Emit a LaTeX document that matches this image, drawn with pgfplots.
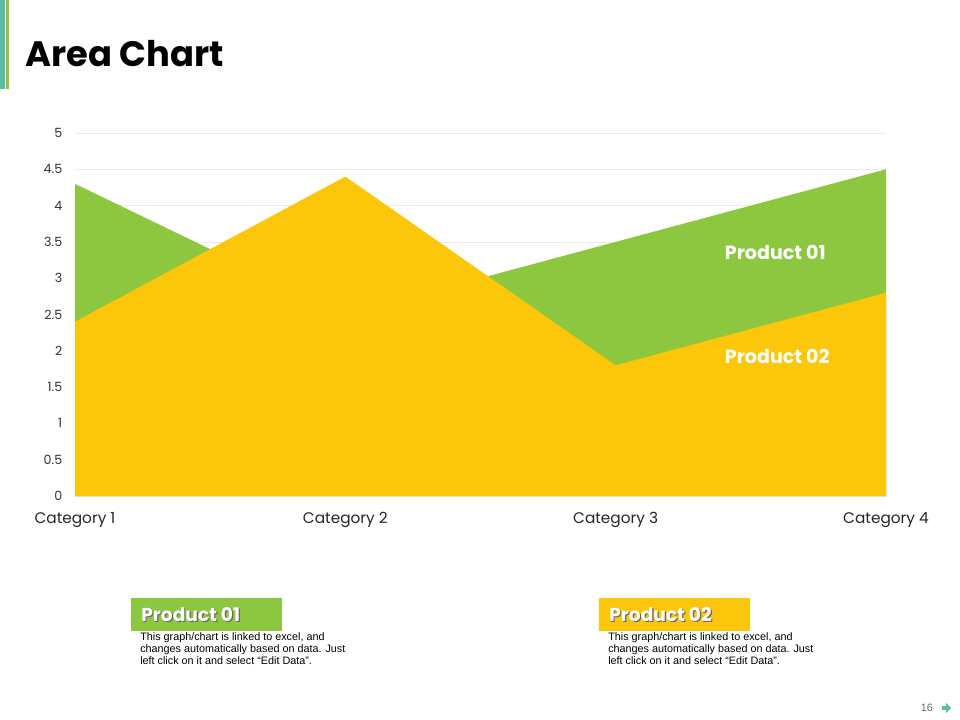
\documentclass[border=0pt]{standalone}
\usepackage{pgfplots}
\pgfplotsset{compat=1.18}
\usepackage{fontspec}
\setmainfont{Poppins}
\newfontfamily\arialfont{Liberation Sans}
\definecolor{pgreen}{RGB}{141,198,63}
\definecolor{pyellow}{RGB}{252,198,10}
\definecolor{pteal}{RGB}{91,190,160}
\definecolor{gridc}{RGB}{235,235,235}
\begin{document}
\begin{tikzpicture}[x=0.75pt,y=-0.75pt]
\fill[white] (0,0) rectangle (960,720);
\fill[pteal] (0,0) rectangle (5,89);
\fill[pgreen] (6,0) rectangle (9,89);
\node[anchor=west,inner sep=0pt,font=\fontsize{26.5}{30}\selectfont\bfseries] at (25,54) {Area Chart};
\begin{axis}[
  at={(56.25pt,-372pt)}, anchor=south west,
  scale only axis, width=608.25pt, height=272.25pt,
  xmin=0, xmax=3, ymin=0, ymax=5,
  xtick={0,1,2,3},
  xticklabels={Category 1,Category 2,Category 3,Category 4},
  ytick={0,0.5,...,5},
  yticklabels={0,0.5,1,1.5,2,2.5,3,3.5,4,4.5,5},
  axis line style={draw=none},
  major tick length=0pt,
  ymajorgrids, grid style={gridc, line width=0.6pt},
  tick label style={font=\fontsize{9.5}{11}\selectfont, text=black!80},
  xticklabel style={font=\fontsize{11.5}{13}\selectfont, text=black!85, yshift=-8.5pt},
  yticklabel style={xshift=-6pt},
  /pgf/number format/assume math mode=true,
  clip=false,
]
\addplot[fill=pgreen, draw=none] coordinates {(0,4.3) (1,2.5) (2,3.5) (3,4.5)} \closedcycle;
\addplot[fill=pyellow, draw=none] coordinates {(0,2.4) (1,4.4) (2,1.8) (3,2.8)} \closedcycle;
\node[anchor=west, text=white, font=\fontsize{14.3}{16}\selectfont\bfseries, inner sep=0pt] at (axis cs:2.403,3.35) {Product 01};
\node[anchor=west, text=white, font=\fontsize{14.3}{16}\selectfont\bfseries, inner sep=0pt] at (axis cs:2.403,1.92) {Product 02};
\end{axis}
% boxes
\fill[pgreen] (131,598) rectangle (282,631);
\node[anchor=west, text=black!60, font=\fontsize{14}{16}\selectfont\bfseries, inner sep=0pt] at (142.2,615.8) {Product 01};
\node[anchor=west, text=white, font=\fontsize{14}{16}\selectfont\bfseries, inner sep=0pt] at (141,614.5) {Product 01};
\fill[pyellow] (599,598) rectangle (750,631);
\node[anchor=west, text=black!60, font=\fontsize{14}{16}\selectfont\bfseries, inner sep=0pt] at (610.2,615.8) {Product 02};
\node[anchor=west, text=white, font=\fontsize{14}{16}\selectfont\bfseries, inner sep=0pt] at (609,614.5) {Product 02};
\node[anchor=north west, inner sep=0pt, align=left, font=\arialfont\fontsize{8.1}{9}\selectfont] at (140,632) {This graph/chart is linked to excel, and\\changes automatically based on data. Just\\left click on it and select “Edit Data”.};
\node[anchor=north west, inner sep=0pt, align=left, font=\arialfont\fontsize{8.1}{9}\selectfont] at (608,632) {This graph/chart is linked to excel, and\\changes automatically based on data. Just\\left click on it and select “Edit Data”.};
\node[anchor=east, inner sep=0pt, text=black!60, font=\arialfont\fontsize{8}{9}\selectfont] at (933,708) {16};
\fill[pteal] (942,706) rectangle (946,710);
\fill[pteal] (946,703) -- (951,708) -- (946,713) -- cycle;
\end{tikzpicture}
\end{document}
